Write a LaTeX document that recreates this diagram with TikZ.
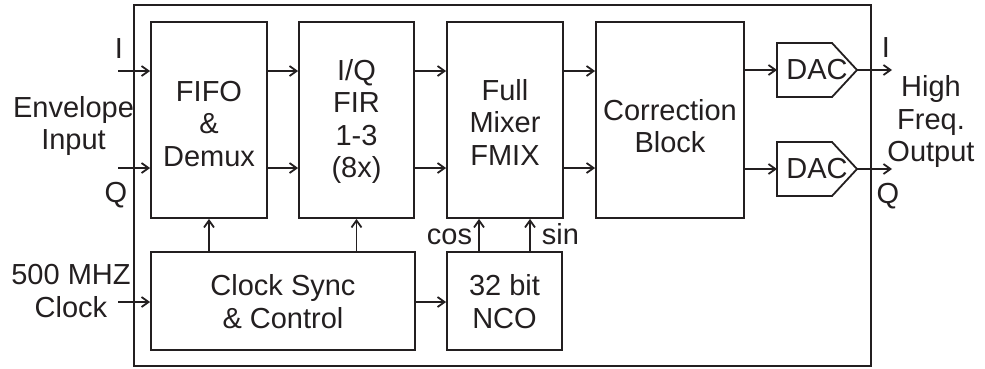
\documentclass[tikz,border=0pt]{standalone}
\usepackage{fontspec}
\setmainfont{Liberation Sans}
\usetikzlibrary{arrows.meta,calc}
\definecolor{ink}{RGB}{35,31,32}
\begin{document}
\begin{tikzpicture}[x=1pt,y=-1pt,
  line width=1.8pt, draw=ink,
  every node/.style={font=\fontsize{29}{32.5}\selectfont, text=ink},
  blk/.style={draw=ink, line width=1.8pt, inner sep=0pt, rectangle},
  txt/.style={align=center, inner sep=0pt},
  dacbox/.style={draw=none, inner sep=0pt, outer sep=0pt, minimum width=80pt, minimum height=54pt},
  arr/.style={draw=ink, line width=1.8pt, -{Straight Barb[length=7pt,width=10pt,line width=1.8pt]}}
]
\useasboundingbox (0,0) rectangle (985,368);

% outer frame
\node[blk, minimum width=737pt, minimum height=361pt] (frame) at (502.5,185.5) {};

% blocks
\node[blk, minimum width=116pt, minimum height=196pt] (fifo) at (209,120) {};
\node[blk, minimum width=115pt, minimum height=196pt] (fir)  at (356.5,120) {};
\node[blk, minimum width=116pt, minimum height=196pt] (mix)  at (505,120) {};
\node[blk, minimum width=148pt, minimum height=196pt] (corr) at (670,120) {};
\node[blk, minimum width=264pt, minimum height=98pt]  (clk)  at (283,301) {};
\node[blk, minimum width=115pt, minimum height=98pt]  (nco)  at (504.5,301) {};

% block texts
\node[txt] (fifoT) at (209,124) {FIFO\\\&\\Demux};
\node[txt] (firT)  at (356.5,121.5) {I/Q\\FIR\\1-3\\(8x)};
\node[txt] (mixT)  at (505,122) {Full\\Mixer\\FMIX};
\node[txt] (corrT) at (670,126) {Correction\\Block};
\node[txt] (clkT)  at (283,301.5) {Clock Sync\\\& Control};
\node[txt] (ncoT)  at (504.5,301.5) {32 bit\\NCO};

% DACs
\node[dacbox] (dac1) at (817,70) {DAC};
\node[dacbox] (dac2) at (817,169) {DAC};
\foreach \d in {dac1,dac2}{
  \draw[ink, line width=1.8pt, line join=miter]
    (\d.north west) -- ([xshift=-25pt]\d.north east) -- (\d.east)
    -- ([xshift=-25pt]\d.south east) -- (\d.south west) -- cycle;
}

% free ends
\coordinate (inI) at (118,71);
\coordinate (inQ) at (118,168);
\coordinate (inC) at (118,302);
\coordinate (outI) at (892,70);
\coordinate (outQ) at (892,169);

% inputs
\draw[arr] (inI) -- (inI -| fifo.west);
\draw[arr] (inQ) -- (inQ -| fifo.west);
\draw[arr] (inC) -- (inC -| clk.west);

% data path
\draw[arr] (fifo.east |- inI) -- (fir.west |- inI);
\draw[arr] (fifo.east |- inQ) -- (fir.west |- inQ);
\draw[arr] (fir.east |- inI) -- (mix.west |- inI);
\draw[arr] (fir.east |- inQ) -- (mix.west |- inQ);
\draw[arr] (mix.east |- inI) -- (corr.west |- inI);
\draw[arr] (mix.east |- inQ) -- (corr.west |- inQ);
\draw[arr] (corr.east |- dac1.west) -- (dac1.west);
\draw[arr] (corr.east |- dac2.west) -- (dac2.west);
\draw[arr] (dac1.east) -- (outI);
\draw[arr] (dac2.east) -- (outQ);

% control
\draw[arr] (clk.north -| fifo.south) -- (fifo.south);
\draw[arr] (clk.north -| fir.south) -- (fir.south);
\draw[arr] (clk.east |- inC) -- (nco.west |- inC);
\draw[arr] ([xshift=-25.5pt]nco.north) -- ([xshift=-25.5pt]nco.north |- mix.south);
\draw[arr] ([xshift=25.5pt]nco.north) -- ([xshift=25.5pt]nco.north |- mix.south);

% labels
\node[inner sep=0pt, anchor=base] (lI) at (119,58) {I};
\node[inner sep=0pt, anchor=base] (lQ) at (116,202) {Q};
\node[txt] (lEnv) at (73.5,126) {Envelope\\Input};
\node[txt] (lClk) at (71,291) {500 MHZ\\Clock};
\node[inner sep=0pt, anchor=base] (rI) at (886,57) {I};
\node[inner sep=0pt, anchor=base] (rQ) at (888,203) {Q};
\node[txt] (rOut) at (931,121.5) {High\\Freq.\\Output};
\node[inner sep=0pt, anchor=base east] (lcos) at (473,244) {cos};
\node[inner sep=0pt, anchor=base west] (lsin) at (541,244) {sin};
\end{tikzpicture}
\end{document}
